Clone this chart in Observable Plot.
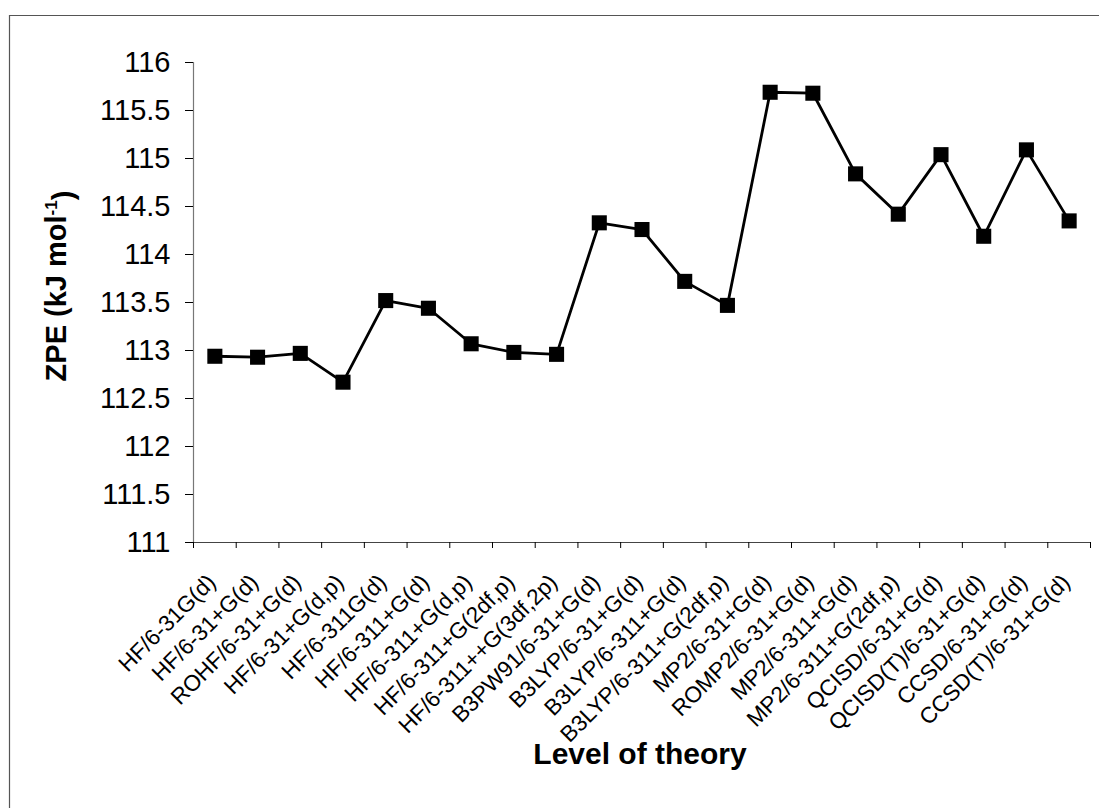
<!DOCTYPE html>
<html><head><meta charset="utf-8">
<script src="https://cdn.jsdelivr.net/npm/d3@7"></script>
<script src="https://cdn.jsdelivr.net/npm/@observablehq/plot@0.6"></script>
<style>
body{margin:0;background:#fff;}
#chart svg{font-family:"Liberation Sans",Arial,sans-serif;}
</style>
</head><body><div id="chart"></div>
<script>
const methods = [
  "HF/6-31G(d)", "HF/6-31+G(d)", "ROHF/6-31+G(d)", "HF/6-31+G(d,p)", "HF/6-311G(d)",
  "HF/6-311+G(d)", "HF/6-311+G(d,p)", "HF/6-311+G(2df,p)", "HF/6-311++G(3df,2p)",
  "B3PW91/6-31+G(d)", "B3LYP/6-31+G(d)", "B3LYP/6-311+G(d)", "B3LYP/6-311+G(2df,p)",
  "MP2/6-31+G(d)", "ROMP2/6-31+G(d)", "MP2/6-311+G(d)", "MP2/6-311+G(2df,p)",
  "QCISD/6-31+G(d)", "QCISD(T)/6-31+G(d)", "CCSD/6-31+G(d)", "CCSD(T)/6-31+G(d)"
];
const zpe = [
  112.94, 112.93, 112.97, 112.67, 113.52,
  113.44, 113.07, 112.98, 112.96,
  114.33, 114.26, 113.72, 113.47,
  115.69, 115.68, 114.84, 114.42,
  115.04, 114.19, 115.09, 114.35
];
const yTicks = [111, 111.5, 112, 112.5, 113, 113.5, 114, 114.5, 115, 115.5, 116];
const xTitle = "Level of theory";
const yTitleMain = "ZPE (kJ mol";
const yTitleSup = "-1";
const yTitleEnd = ")";

const data = methods.map((m, i) => ({i, method: m, zpe: zpe[i]}));
const idx = methods.map((_, i) => i);
const bounds = [...idx.map(i => i - 0.5), methods.length - 0.5];

const chart = Plot.plot({
  width: 1099, height: 808,
  marginTop: 62, marginBottom: 266, marginLeft: 193, marginRight: 9,
  style: {fontFamily: '"Liberation Sans", Arial, sans-serif', background: "white", overflow: "visible", color: "black"},
  x: {type: "linear", domain: [-0.5, methods.length - 0.5]},
  y: {domain: [111, 116]},
  marks: [
    Plot.ruleY([111], {stroke: "#444", strokeWidth: 1.2}),
    Plot.ruleX([-0.5], {y1: 111, y2: 116, stroke: "#777", strokeWidth: 1.2}),
    Plot.axisY({ticks: yTicks, tickSize: 8, tickPadding: 15, fontSize: 29, label: null, tickFormat: d => String(d)}),
    Plot.axisX({ticks: bounds, tickSize: 6, tickFormat: () => "", label: null}),
    Plot.axisX({ticks: idx, tickSize: 0, tickPadding: 36, tickRotate: -45, tickFormat: i => methods[i], fontSize: 22.5, label: null, dx: -3}),
    Plot.line(data, {x: "i", y: "zpe", stroke: "black", strokeWidth: 2.8}),
    Plot.dot(data, {x: "i", y: "zpe", symbol: "square", r: 8.5, fill: "black", stroke: "none"}),
    Plot.text([xTitle], {frameAnchor: "bottom", dy: 221, dx: -2, fontSize: 30, fontWeight: "bold", fill: "black"})
  ]
});
document.getElementById("chart").appendChild(chart);

const svg = d3.select(chart);
// outer border (top and left edges)
svg.append("path").attr("d", "M9.5,808V15.5H1099").attr("fill", "none").attr("stroke", "#555").attr("stroke-width", 1.2);
// y-axis title with superscript
const yt = svg.append("text")
  .attr("transform", "translate(56,286) rotate(-90)")
  .attr("text-anchor", "middle")
  .attr("dy", "0.35em")
  .attr("font-size", 29).attr("font-weight", "bold").attr("fill", "black");
yt.append("tspan").text(yTitleMain);
yt.append("tspan").attr("dy", "-0.55em").attr("font-size", 17).text(yTitleSup);
yt.append("tspan").attr("dy", "0.55em").text(yTitleEnd);
</script>
</body></html>
